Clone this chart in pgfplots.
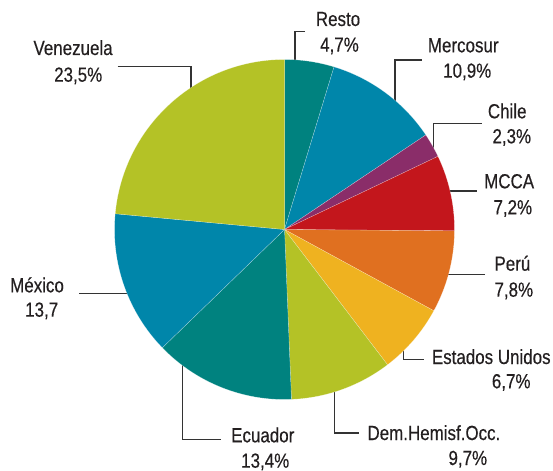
\documentclass[border=0pt]{standalone}
\usepackage{pgfplots}
\usepackage{pgfplotstable}
\pgfplotsset{compat=1.18}
\usepackage{fontspec}
\setmainfont{Liberation Sans}[FakeStretch=0.83, FakeBold=0.35]
\definecolor{cteal}{HTML}{00827F}
\definecolor{cblue}{HTML}{0086AA}
\definecolor{cpurple}{HTML}{8A2D69}
\definecolor{cred}{HTML}{C3161C}
\definecolor{corange}{HTML}{E07020}
\definecolor{cyellow}{HTML}{EFB220}
\definecolor{colive}{HTML}{B4C226}
\definecolor{ctext}{HTML}{231F20}
\definecolor{cline}{HTML}{333333}
\pgfplotstableread{
name v c
Resto 4.7 cteal
Mercosur 10.9 cblue
Chile 2.3 cpurple
MCCA 7.2 cred
Peru 7.8 corange
EEUU 6.7 cyellow
DemHemisf 9.7 colive
Ecuador 13.4 cteal
Mexico 13.7 cblue
Venezuela 23.5 colive
}\pietable
\begin{document}
\begin{tikzpicture}
\begin{axis}[
  scale only axis, width=553bp, height=471bp,
  xmin=0, xmax=553, ymin=0, ymax=471, y dir=reverse,
  hide axis, clip=false,
]
% leader lines (drawn first; pie covers their inner ends)
\begin{scope}[draw=cline, line width=1.2bp]
\draw (axis cs:117.7,66.7) -- (axis cs:191,66.7) -- (axis cs:191,120);
\draw (axis cs:305,31.7) -- (axis cs:295,31.7) -- (axis cs:295,100);
\draw (axis cs:421.7,60) -- (axis cs:395,60) -- (axis cs:395,130);
\draw (axis cs:481.7,123.3) -- (axis cs:433.3,123.3) -- (axis cs:433.3,170);
\draw (axis cs:476.7,191) -- (axis cs:420,191);
\draw (axis cs:485,274.3) -- (axis cs:420,274.3);
\draw (axis cs:403.3,330) -- (axis cs:403.3,359.3) -- (axis cs:424,359.3);
\draw (axis cs:334.3,370) -- (axis cs:334.3,433) -- (axis cs:359,433);
\draw (axis cs:79,293.3) -- (axis cs:150,293.3);
\draw (axis cs:182.5,330) -- (axis cs:182.5,439.3) -- (axis cs:220.5,439.3);
\end{scope}
% pie slices from the table
\pgfplotstablegetrowsof{\pietable}
\pgfmathtruncatemacro\N{\pgfplotsretval-1}
\def\tot{0}
\pgfplotsforeachungrouped \i in {0,...,\N}{%
  \pgfplotstablegetelem{\i}{v}\of\pietable
  \pgfmathsetmacro\tot{\tot+\pgfplotsretval}%
}
\def\cum{0}
\pgfplotsforeachungrouped \i in {0,...,\N}{%
  \pgfplotstablegetelem{\i}{v}\of\pietable \let\v\pgfplotsretval
  \pgfplotstablegetelem{\i}{c}\of\pietable \let\c\pgfplotsretval
  \pgfmathsetmacro\a{90-360*(\cum/\tot)}%
  \pgfmathsetmacro\b{90-360*((\cum+\v)/\tot)}%
  \edef\temp{\noexpand\fill[\c, draw=white, draw opacity=0.5, line width=0.3bp] (axis cs:284.5,229.5) -- ++(\a:170bp) arc[start angle=\a, end angle=\b, radius=170bp] -- cycle;}%
  \temp
  \pgfmathsetmacro\cum{\cum+\v}%
}
% labels
\begin{scope}[every node/.style={inner sep=0pt, anchor=base west, text=ctext, font=\fontsize{20.5}{24}\selectfont}]
\node at (axis cs:33.3,55) {Venezuela};
\node at (axis cs:54,81.7) {23,5\%};
\node at (axis cs:315.7,26) {Resto};
\node at (axis cs:320,51.7) {4,7\%};
\node at (axis cs:427.7,52.3) {Mercosur};
\node at (axis cs:443,77.7) {10,9\%};
\node at (axis cs:487.7,118.3) {Chile};
\node at (axis cs:492.3,143.3) {2,3\%};
\node at (axis cs:484,188.3) {MCCA};
\node at (axis cs:493.3,214.3) {7,2\%};
\node at (axis cs:494.3,270.7) {Perú};
\node at (axis cs:494.3,296.7) {7,8\%};
\node at (axis cs:431.7,364) {Estados Unidos};
\node at (axis cs:491.7,388.3) {6,7\%};
\node at (axis cs:367.3,440) {Dem.Hemisf.Occ.};
\node at (axis cs:448.3,465) {9,7\%};
\node at (axis cs:10,292.3) {México};
\node at (axis cs:25,316.7) {13,7};
\node at (axis cs:231,442.3) {Ecuador};
\node at (axis cs:241,467.7) {13,4\%};
\end{scope}
\end{axis}
\pgfresetboundingbox
\useasboundingbox (0,0) rectangle (553bp,471bp);
\end{tikzpicture}
\end{document}
